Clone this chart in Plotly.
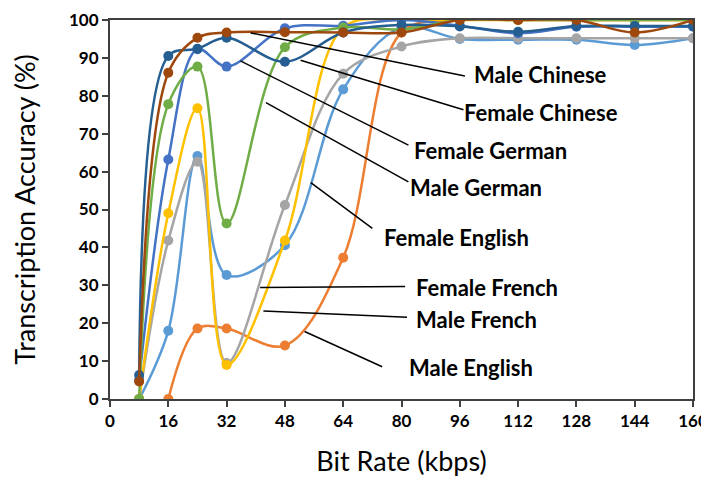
import plotly.graph_objects as go

bit_rates = [8, 16, 24, 32, 48, 64, 80, 96, 112, 128, 144, 160]

female_english = [0, 18.0, 64.1, 32.7, 40.6, 81.7, 98.0, 95.0, 94.8, 94.8, 93.4, 95.2]
male_english = [None, 0, 18.6, 18.6, 14.1, 37.3, 96.7, 100, 100, 100, 100, 100]
female_french = [0, 41.8, 62.6, 9.5, 51.2, 85.8, 93.0, 95.2, 95.2, 95.2, 95.2, 95.2]
male_french = [0, 49.0, 76.7, 9.0, 41.8, 98.0, 100, 100, 100, 100, 100, 100]
female_german = [5.0, 63.2, 92.3, 87.7, 97.8, 98.5, 100, 98.5, 96.5, 98.2, 98.2, 98.2]
male_german = [0, 77.8, 87.7, 46.3, 92.8, 98.0, 97.5, 100, 100, 100, 100, 100]
female_chinese = [6.3, 90.5, 92.4, 95.3, 89.0, 96.7, 98.7, 98.3, 96.9, 98.4, 98.4, 98.4]
male_chinese = [4.6, 86.1, 95.3, 96.7, 96.8, 96.7, 96.7, 100, 100, 100, 96.7, 100]

series_names = ["Female English", "Male English", "Female French", "Male French",
                "Female German", "Male German", "Female Chinese", "Male Chinese"]
series_values = [female_english, male_english, female_french, male_french,
                 female_german, male_german, female_chinese, male_chinese]
colors = ["#5B9BD5", "#ED7D31", "#A5A5A5", "#FFC000",
          "#4472C4", "#70AD47", "#255E91", "#9E480E"]

x_ticks = [0, 16, 32, 48, 64, 80, 96, 112, 128, 144, 160]
y_ticks = [0, 10, 20, 30, 40, 50, 60, 70, 80, 90, 100]

# callout labels: (text, label anchor x, label y, leader start x, start y, leader end x, end y)
callouts = [
    ("Male Chinese", 99.3, 85.5, 38.6, 96.6, 97.4, 85.2),
    ("Female Chinese", 96.6, 75.5, 52.3, 89.4, 97.0, 76.3),
    ("Female German", 82.9, 65.7, 35.8, 89.2, 81.9, 67.0),
    ("Male German", 81.8, 55.7, 42.8, 78.2, 81.9, 57.3),
    ("Female English", 74.6, 42.5, 55.1, 57.1, 72.0, 45.0),
    ("Female French", 83.4, 29.3, 41.2, 29.4, 81.0, 29.7),
    ("Male French", 83.4, 21.1, 42.1, 23.2, 81.5, 21.6),
    ("Male English", 81.5, 8.2, 53.4, 17.8, 74.7, 8.5),
]

FONT = "Lato"

fig = go.Figure()
for name, vals, col in zip(series_names, series_values, colors):
    fig.add_trace(go.Scatter(
        x=bit_rates, y=vals, name=name, mode="lines+markers",
        line=dict(color=col, width=2.5, shape="spline", smoothing=1.0),
        marker=dict(color=col, size=10),
        connectgaps=False, cliponaxis=True,
    ))

for text, lx, ly, x0, y0, x1, y1 in callouts:
    fig.add_shape(type="line", xref="x", yref="y", x0=x0, y0=y0, x1=x1, y1=y1,
                  line=dict(color="black", width=1.5))
    fig.add_annotation(x=lx, y=ly, xref="x", yref="y", text="<b>%s</b>" % text,
                       showarrow=False, xanchor="left", yanchor="middle",
                       font=dict(family=FONT, size=22, color="black"))

axis_common = dict(showline=True, linecolor="#404040", linewidth=2, mirror=True,
                   showgrid=False, zeroline=False, ticks="outside", ticklen=6,
                   tickwidth=1.5, tickcolor="#404040", automargin=False,
                   ticklabeloverflow="allow",
                   tickfont=dict(family=FONT, size=17, color="black", weight="bold"))

fig.update_layout(
    width=709, height=469,
    margin=dict(l=102, r=24, t=12, b=78, autoexpand=False),
    paper_bgcolor="white", plot_bgcolor="white",
    showlegend=False,
    xaxis=dict(range=[0, 160], tickvals=x_ticks,
               title=dict(text="Bit Rate (kbps)", standoff=27,
                          font=dict(family=FONT, size=27, color="black")),
               **axis_common),
    yaxis=dict(range=[0, 100], tickvals=y_ticks,
               title=dict(text="Transcription Accuracy (%)", standoff=28,
                          font=dict(family=FONT, size=27, color="black")),
               **axis_common),
)

fig.write_html("out.html")
